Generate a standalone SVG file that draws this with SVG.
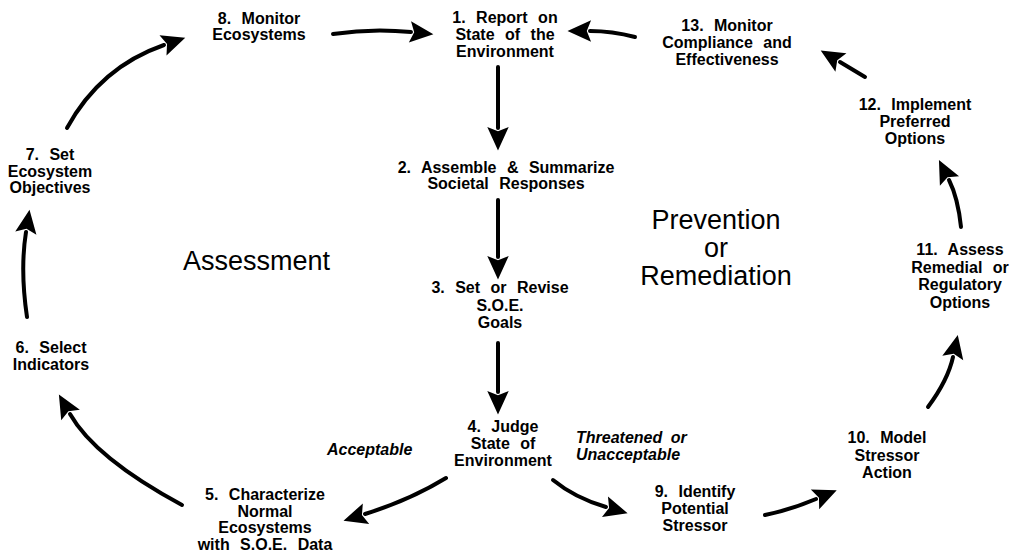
<svg xmlns="http://www.w3.org/2000/svg" width="1018" height="557" viewBox="0 0 1018 557">
<style>
.n{font-family:"Liberation Sans",Arial,sans-serif;font-weight:bold;font-size:16px;word-spacing:6px;fill:#000;text-anchor:middle}
.big{font-family:"Liberation Sans",Arial,sans-serif;font-size:27px;fill:#000}
.it{font-family:"Liberation Sans",Arial,sans-serif;font-weight:bold;font-style:italic;font-size:16px;word-spacing:4px;fill:#000}
.c{fill:none;stroke:#000;stroke-width:4;stroke-linecap:round}
</style>
<defs>
<marker id="ah" markerUnits="userSpaceOnUse" markerWidth="30" markerHeight="30" refX="0" refY="0" viewBox="-4 -12 28 24" orient="auto" overflow="visible">
<path d="M-1,-10 L21,0 L-1,10 L3,0 z" fill="#000"/>
</marker>
</defs>
<rect width="1018" height="557" fill="#fff"/>
<g id="connectors">
<path class="c" d="M333,34 Q372,28 411,32" marker-end="url(#ah)"/>
<path class="c" d="M635,37 Q612,31 590,31" marker-end="url(#ah)"/>
<path class="c" d="M498,67 L498,128" marker-end="url(#ah)"/>
<path class="c" d="M498,200 L498,257" marker-end="url(#ah)"/>
<path class="c" d="M498,343 L498,392" marker-end="url(#ah)"/>
<path class="c" d="M446,478 Q410,500 365,514" marker-end="url(#ah)"/>
<path class="c" d="M553,480 Q575,498 606,507" marker-end="url(#ah)"/>
<path class="c" d="M765,515 Q790,510 816,499" marker-end="url(#ah)"/>
<path class="c" d="M928,407 Q948,380 953,357" marker-end="url(#ah)"/>
<path class="c" d="M961,227 Q958,198 949,180" marker-end="url(#ah)"/>
<path class="c" d="M865,77 L840,62" marker-end="url(#ah)"/>
<path class="c" d="M182,505 Q95,458 70,414" marker-end="url(#ah)"/>
<path class="c" d="M27,317 Q20,270 26,232" marker-end="url(#ah)"/>
<path class="c" d="M67,128 C85,95 115,62 164,45" marker-end="url(#ah)"/>
</g>
<g id="n1"><text class="n" x="505" y="23">1. Report on</text><text class="n" x="505" y="40">State of the</text><text class="n" x="505" y="57">Environment</text></g>
<g id="n2"><text class="n" x="506" y="173">2. Assemble &amp; Summarize</text><text class="n" x="506" y="189">Societal Responses</text></g>
<g id="n3"><text class="n" x="500" y="293">3. Set or Revise</text><text class="n" x="500" y="311">S.O.E.</text><text class="n" x="500" y="328">Goals</text></g>
<g id="n4"><text class="n" x="503" y="432">4. Judge</text><text class="n" x="503" y="449">State of</text><text class="n" x="503" y="466">Environment</text></g>
<g id="n5"><text class="n" x="265" y="500">5. Characterize</text><text class="n" x="265" y="517">Normal</text><text class="n" x="265" y="533">Ecosystems</text><text class="n" x="265" y="550">with S.O.E. Data</text></g>
<g id="n6"><text class="n" x="51" y="353">6. Select</text><text class="n" x="51" y="370">Indicators</text></g>
<g id="n7"><text class="n" x="50" y="160">7. Set</text><text class="n" x="50" y="177">Ecosystem</text><text class="n" x="50" y="193">Objectives</text></g>
<g id="n8"><text class="n" x="259" y="24">8. Monitor</text><text class="n" x="259" y="40">Ecosystems</text></g>
<g id="n9"><text class="n" x="695" y="497">9. Identify</text><text class="n" x="695" y="514">Potential</text><text class="n" x="695" y="531">Stressor</text></g>
<g id="n10"><text class="n" x="887" y="443">10. Model</text><text class="n" x="887" y="461">Stressor</text><text class="n" x="887" y="478">Action</text></g>
<g id="n11"><text class="n" x="960" y="255">11. Assess</text><text class="n" x="960" y="273">Remedial or</text><text class="n" x="960" y="290">Regulatory</text><text class="n" x="960" y="308">Options</text></g>
<g id="n12"><text class="n" x="915" y="110">12. Implement</text><text class="n" x="915" y="127">Preferred</text><text class="n" x="915" y="144">Options</text></g>
<g id="n13"><text class="n" x="727" y="31">13. Monitor</text><text class="n" x="727" y="48">Compliance and</text><text class="n" x="727" y="65">Effectiveness</text></g>
<g id="labels">
<text class="big" x="183" y="270">Assessment</text>
<text class="big" x="716" y="229" text-anchor="middle">Prevention</text>
<text class="big" x="716" y="257" text-anchor="middle">or</text>
<text class="big" x="716" y="285" text-anchor="middle">Remediation</text>
<text class="it" x="327" y="455">Acceptable</text>
<text class="it" x="576" y="443">Threatened or</text>
<text class="it" x="576" y="460">Unacceptable</text>
</g>
</svg>
